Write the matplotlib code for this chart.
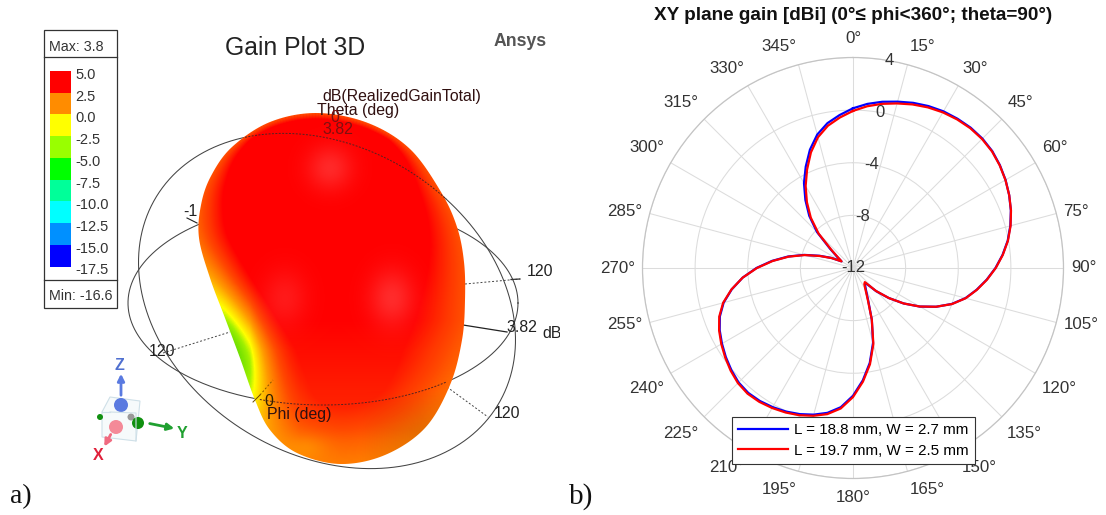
import numpy as np
import matplotlib
matplotlib.use('Agg')
import matplotlib.pyplot as plt
from matplotlib.colors import LinearSegmentedColormap
from matplotlib.patches import Polygon, Rectangle, Circle

plt.rcParams['font.family'] = ['Liberation Sans', 'DejaVu Sans']

# XY plane cut, every 5 deg
phi = [0, 5, 10, 15, 20, 25, 30, 35, 40, 45, 50, 55, 60, 65, 70, 75, 80, 85, 90, 95, 100, 105, 110, 115,
       120, 125, 130, 135, 140, 145, 150, 155, 160, 165, 170, 175, 180, 185, 190, 195, 200, 205, 210, 215,
       220, 225, 230, 235, 240, 245, 250, 255, 260, 265, 270, 275, 280, 285, 290, 295, 300, 305, 310, 315,
       320, 325, 330, 335, 340, 345, 350, 355, 360]
gain_red = [-0.06, 0.34, 0.67, 0.95, 1.23, 1.47, 1.66, 1.79, 1.87, 1.87, 1.79, 1.61, 1.38, 1.1, 0.78, 0.4, -0.04,
            -0.57, -1.15, -1.78, -2.44, -3.13, -3.99, -5.03, -6.14, -7.3, -8.45, -9.54, -10.6, -10.5, -10.1,
            -9.34, -7.82, -6.02, -4.57, -3.33, -2.19, -1.28, -0.72, -0.37, -0.09, 0.12, 0.29, 0.42, 0.47, 0.37,
            0.14, -0.14, -0.44, -0.77, -1.18, -1.78, -2.62, -3.58, -4.7, -5.87, -7.03, -8.2, -9.34, -10.23,
            -10.99, -10.63, -9.85, -8.3, -7.01, -5.89, -4.8, -3.74, -2.65, -1.71, -1.02, -0.52, -0.06]
gain_blue = [0.14, 0.52, 0.83, 1.09, 1.36, 1.58, 1.75, 1.85, 1.92, 1.91, 1.82, 1.63, 1.39, 1.1, 0.77, 0.38, -0.06,
             -0.59, -1.17, -1.8, -2.46, -3.15, -4.01, -5.03, -6.14, -7.3, -8.45, -9.5, -10.5, -10.4, -10.0,
             -9.26, -7.82, -6.11, -4.67, -3.43, -2.29, -1.38, -0.82, -0.46, -0.18, 0.04, 0.21, 0.34, 0.39, 0.3,
             0.07, -0.2, -0.5, -0.82, -1.23, -1.82, -2.64, -3.58, -4.66, -5.82, -6.98, -8.15, -9.28, -10.18,
             -10.99, -10.55, -9.73, -8.13, -6.83, -5.69, -4.55, -3.5, -2.43, -1.5, -0.82, -0.33, 0.14]
legend_labels = ['L = 18.8 mm, W = 2.7 mm', 'L = 19.7 mm, W = 2.5 mm']
r_ticks = [-12, -8, -4, 0, 4]
theta_ticks = list(range(0, 360, 15))

# colour key of the 3D plot
key_labels = ['5.0', '2.5', '0.0', '-2.5', '-5.0', '-7.5', '-10.0', '-12.5', '-15.0', '-17.5']
key_colors = ['#ff0000', '#ff8c00', '#ffff00', '#99ff00', '#00ff00', '#00ff99', '#00ffff', '#0090ff', '#0000ff']

# outline, in image pixels
blob_x = [317, 368, 410, 441, 457, 464, 465, 462, 450, 425, 385, 340, 297, 270, 255, 240, 225, 210, 199, 201, 211, 232, 270]
blob_y = [113, 123, 149, 192, 227, 262, 300, 340, 385, 428, 455, 464, 453, 430, 400, 358, 318, 278, 238, 205, 176, 147, 122]


def smooth(xs, ys, n=16):
    # catmull-rom through the traced points
    p = np.column_stack([xs, ys]).astype(float)
    p = np.vstack([p[-1], p, p[0], p[1]])
    out = []
    for i in range(1, len(p) - 2):
        for t in np.linspace(0, 1, n, endpoint=False):
            out.append(0.5 * (2 * p[i] + (p[i + 1] - p[i - 1]) * t
                              + (2 * p[i - 1] - 5 * p[i] + 4 * p[i + 1] - p[i + 2]) * t ** 2
                              + (3 * p[i] - p[i - 1] - 3 * p[i + 1] + p[i + 2]) * t ** 3))
    out.append(p[-2])
    return np.array(out)


def ring(cx, cy, a, b, tilt):
    t = np.linspace(0, 2 * np.pi, 361)
    c, s = np.cos(np.deg2rad(tilt)), np.sin(np.deg2rad(tilt))
    return cx + a * np.cos(t) * c - b * np.sin(t) * s, cy + a * np.cos(t) * s + b * np.sin(t) * c


fig = plt.figure(figsize=(11.06, 5.15), dpi=100)
bg = fig.add_axes([0, 0, 1, 1])
bg.set_xlim(0, 1106)
bg.set_ylim(515, 0)
bg.axis('off')

# ---- left panel: colour key ----
bg.add_patch(Rectangle((43.5, 29.5), 73.5, 278, fc='white', ec='#333333', lw=0.9))
bg.plot([43.5, 117], [56.5, 56.5], color='#333333', lw=0.9)
bg.plot([43.5, 117], [280, 280], color='#333333', lw=0.9)
bg.text(49, 47, 'Max: 3.8', fontsize=10.3, color='#333333', va='center')
bg.text(49, 296, 'Min: -16.6', fontsize=10.3, color='#333333', va='center')
step = (266.5 - 71) / len(key_colors)
for i, c in enumerate(key_colors):
    bg.add_patch(Rectangle((49.5, 71 + i * step), 21.5, step, fc=c, ec='none'))
for i, s in enumerate(key_labels):
    bg.text(75, 75 + i * step, s, fontsize=10.5, color='#333333', va='center')

# ---- left panel: pattern ----
bg.text(295, 48, 'Gain Plot 3D', fontsize=17.8, color='#222222', ha='center', va='center')
bg.text(520, 41, 'Ansys', fontsize=12.7, color='#555555', ha='center', va='center', fontweight='bold')

r1x, r1y = ring(327, 301, 200, 153.7, 31.5)
r2x, r2y = ring(323, 303, 195, 102, 0)
wire = dict(color='#444444', lw=0.75, zorder=2)
bg.plot(r1x, r1y, **wire)
bg.plot(r2x, r2y, **wire)
bg.plot([163, 230], [353, 332], color='#444444', lw=0.7, ls=(0, (2, 2)), zorder=2)
bg.plot([465, 520], [284, 279], color='#444444', lw=0.7, ls=(0, (2, 2)), zorder=2)
bg.plot([511, 520], [279.5, 279], color='#333333', lw=0.9, zorder=2)
bg.plot([447, 488], [387, 417], color='#444444', lw=0.7, ls=(0, (2, 2)), zorder=2)
bg.plot([463, 507], [325, 332], color='#222222', lw=0.9, zorder=2)
bg.plot([187, 197], [218, 223], color='#222222', lw=0.8, zorder=2)
for x, y, s in [(190, 211, '-1'), (162, 352, '120'), (540, 272, '120'), (507, 414, '120'),
                (522, 328, '3.82')]:
    bg.text(x, y, s, fontsize=11.4, color='#222222', ha='center', va='center', zorder=2)
bg.text(552, 334, 'dB', fontsize=11.4, color='#222222', ha='center', va='center', zorder=2)
bg.add_patch(Rectangle((560, 300), 8, 60, fc='white', ec='none', zorder=2.5))

outline = smooth(blob_x, blob_y)
gx, gy = np.meshgrid(np.arange(190.5, 472), np.arange(108.5, 470))
dist = np.min(np.hypot(gx[..., None] - outline[:, 0], gy[..., None] - outline[:, 1]), axis=-1)
left = np.exp(-((gy - 350) / 75) ** 2) * np.clip((300 - gx) / 50, 0, 1)
floor = 0.68 - 0.68 * left
width = 6 + 50 * np.clip((gy - 140) / 210, 0, 1)
g = floor + (1 - floor) * np.clip(dist / width, 0, 1) ** 1.2
g = g * (1 - 0.2 * np.clip((gy - 320) / 120, 0, 1))
ramp = LinearSegmentedColormap.from_list('gain', [(0, '#70e000'), (0.1, '#a0f000'), (0.2, '#ffff00'),
                                                  (0.45, '#ff9a00'), (0.7, '#ff4a00'), (1, '#ff0000')])
img = ramp(g)[..., :3]
for cx, cy, sx, sy, a in [(330, 168, 22, 22, 0.16), (392, 298, 22, 28, 0.17), (285, 298, 22, 28, 0.1)]:
    glow = a * np.exp(-((gx - cx) / sx) ** 2 - ((gy - cy) / sy) ** 2)
    img = img + (1 - img) * glow[..., None]
shade = 0.45 * np.exp(-((gx - 305) / 22) ** 2 - ((gy - 448) / 12) ** 2)
img[..., 1] = img[..., 1] + shade * (0.65 - img[..., 1])
dark = 0.1 * np.clip((gx - 360) / 60, 0, 1) * np.clip((gy - 390) / 40, 0, 1)
img = img * (1 - dark[..., None])
im = bg.imshow(img, extent=(190, 472, 470, 108), zorder=3, aspect='auto', interpolation='bilinear')
im.set_clip_path(Polygon(outline, transform=bg.transData))
bg.set_xlim(0, 1106)
bg.set_ylim(515, 0)

# wire parts that pass in front of the pattern
front = dict(color='#552222', lw=0.7, ls=(0, (2, 1.5)), zorder=4)
x1, y1 = r1x[r1y < 230], r1y[r1y < 230]
m = (x1 > 243) & (x1 < 447)
order = np.argsort(x1[m])
bg.plot(x1[m][order], y1[m][order], **front)
m = (r2x > 258) & (r2x < 447) & (r2y > 303)
bg.plot(r2x[m], r2y[m], **front)
bg.plot([253, 260], [402, 395], color='#664400', lw=0.7, zorder=4)
bg.plot([260, 273], [395, 380], color='#885500', lw=0.7, ls=(0, (2, 2)), zorder=4)
for x, y, s in [(402, 97, 'dB(RealizedGainTotal)'), (358, 110, 'Theta (deg)'), (299, 414, 'Phi (deg)')]:
    bg.text(x, y, s, fontsize=11.4, color='#301010', ha='center', va='center', zorder=5)
bg.text(335, 118, '0', fontsize=11.4, color='#801010', ha='center', va='center', zorder=5)
bg.text(338, 130, '3.82', fontsize=11.4, color='#801010', ha='center', va='center', zorder=5)
bg.text(269, 402, '0', fontsize=11.4, color='#302000', ha='center', va='center', zorder=5)

# ---- left panel: axis triad ----
bg.add_patch(Polygon([(102, 412), (110, 397), (140, 401), (136, 441), (102, 437)], fc='#f6fafb', ec='#cfe0e8', lw=0.8))
bg.plot([110, 136, 136], [412, 413, 441], color='#cfe0e8', lw=0.8)
bg.plot([102, 110], [412, 412], color='#cfe0e8', lw=0.8)
bg.add_patch(Circle((100, 417), 3, fc='#119011', ec='none'))
bg.add_patch(Circle((131, 417), 3.5, fc='#999999', ec='none'))
bg.add_patch(Circle((121, 405), 7, fc='#5a7ae0', ec='none'))
bg.add_patch(Circle((116, 427), 7, fc='#f48a98', ec='none'))
bg.add_patch(Circle((138, 423), 6, fc='#109010', ec='none'))
bg.annotate('', xy=(121, 371), xytext=(121, 398), arrowprops=dict(arrowstyle='-|>', color='#5a7ae0', lw=2))
bg.annotate('', xy=(103, 449), xytext=(112, 432), arrowprops=dict(arrowstyle='-|>', color='#f06a80', lw=2))
bg.annotate('', xy=(177, 429), xytext=(147, 423), arrowprops=dict(arrowstyle='-|>', color='#20a030', lw=2))
bg.text(119, 366, 'Z', fontsize=11.5, fontweight='bold', color='#5070d0', ha='center', va='center')
bg.text(98.5, 456, 'X', fontsize=11.5, fontweight='bold', color='#e0203a', ha='center', va='center')
bg.text(182, 433, 'Y', fontsize=11.5, fontweight='bold', color='#20a030', ha='center', va='center')

bg.text(21, 497, 'a)', fontsize=20, family='Liberation Serif', color='#111111', ha='center', va='center')
bg.text(581, 497, 'b)', fontsize=21, family='Liberation Serif', color='#111111', ha='center', va='center')

# ---- right panel: polar cut ----
ax = fig.add_axes([642.5 / 1106, 36.5 / 515, 421 / 1106, 421 / 515], projection='polar')
ax.patch.set_alpha(0)
ax.set_theta_zero_location('N')
ax.set_theta_direction(-1)
ax.set_rlim(r_ticks[0], r_ticks[-1])
ax.set_rticks(r_ticks)
ax.set_thetagrids(theta_ticks)
ax.set_xticklabels([])
ax.set_yticklabels([])
ax.grid(True, color='#dcdcdc', lw=0.75)
ax.spines['polar'].set_color('#c4c4c4')
ax.spines['polar'].set_linewidth(0.9)
ax.plot(np.deg2rad(phi), gain_blue, color='#0000ff', lw=1.6, label=legend_labels[0], zorder=2.5)
ax.plot(np.deg2rad(phi), gain_red, color='#ff0000', lw=1.6, label=legend_labels[1], zorder=2.6)
for r in r_ticks:
    ax.text(np.deg2rad(10) if r > -12 else 0, r, str(r), fontsize=12, color='#333333', ha='center', va='center')
for t in theta_ticks:
    ha = 'center' if t in (0, 180) else ('left' if t < 180 else 'right')
    up = np.cos(np.deg2rad(t))
    dy = 8 if up > 0.3 else (-8 if up < -0.3 else 0)
    ax.annotate(str(t) + '°', xy=(np.deg2rad(t), 4 + 7.5 / 13.15), xytext=(0, dy), textcoords='offset points',
                fontsize=12.2, color='#333333', ha=ha, va='center', annotation_clip=False)
leg = ax.legend(loc='center', bbox_to_anchor=(853.5, 440.5), bbox_transform=bg.transData, fontsize=10.9,
                fancybox=False, framealpha=1, edgecolor='#333333', handlelength=3.3, handletextpad=0.4,
                labelspacing=0.4, borderpad=0.42, borderaxespad=0)
leg.get_frame().set_linewidth(0.8)
leg.set_zorder(10)
bg.text(853, 15, 'XY plane gain [dBi] (0°≤ phi<360°; theta=90°)', fontsize=13.6, fontweight='bold',
        color='#111111', ha='center', va='center')

fig.savefig('out.png', dpi=100)
